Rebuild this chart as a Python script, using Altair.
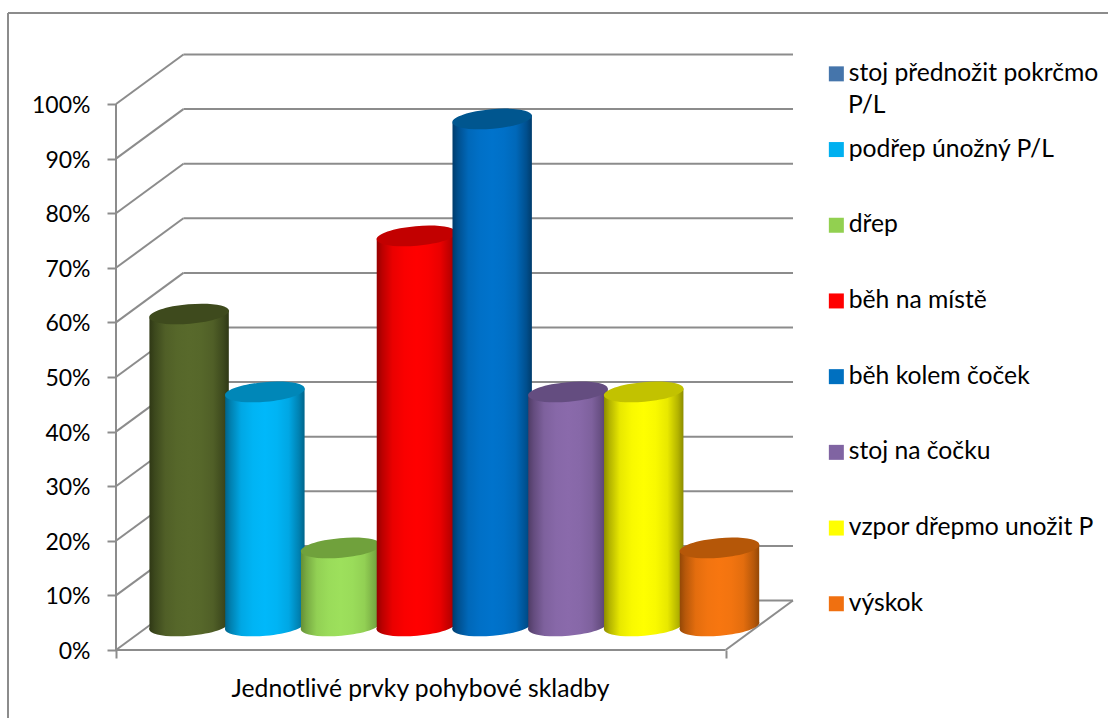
import altair as alt
import pandas as pd

# Share of performers (%) for each element of the routine (out of 14 performers)
series = ["stoj přednožit pokrčmo", "podřep únožný P/L", "dřep", "běh na místě",
          "běh kolem čoček", "stoj na čočku", "vzpor dřepmo unožit P", "výskok"]
values = [57.14, 42.86, 14.29, 71.43, 92.86, 42.86, 42.86, 14.29]

# Cylinder shading: bright centre, dark rim, lid colour, legend swatch
centre = ["#58692b", "#00b8fa", "#9de05c", "#ff0000", "#0073cc", "#8a6aab", "#ffff00", "#f77610"]
rim = ["#2f3815", "#00648a", "#648f36", "#960000", "#003c6c", "#503c66", "#8c8c00", "#944806"]
lid = ["#3e4a1d", "#0087b8", "#70a13c", "#c20000", "#00568f", "#644d80", "#c2c200", "#b55708"]
swatch = ["#4575ab", "#00b0f0", "#92d050", "#ff0000", "#0070c0", "#8064a2", "#ffff00", "#f07010"]

axis_ticks = list(range(0, 101, 10))
x_title = "Jednotlivé prvky pohybové skladby"
wrapped_tail = "P/L"

FONT = "Lato"
FS = 24.7
FS_AXIS = 23
GRID = "#8c8c8c"

# Scale units: one x unit is one category slot, y is in percent.
DEPTH_X, DEPTH_Y = 0.89, 9.07
FRONT_W = 8.045
BAR_X0, BAR_HALF = 0.965, 0.524
BASE = 4.4
TIP = 0.64
ELLIPSE = ("M-0.9962,0.0872 A1,0.245,-5,0,1,0.9962,-0.0872 "
           "A1,0.245,-5,0,1,-0.9962,0.0872 Z")

x_scale = alt.Scale(domain=[0, FRONT_W + DEPTH_X], nice=False, zero=False)
y_scale = alt.Scale(domain=[0, 109.16], nice=False, zero=False)
X = alt.X("x:Q", scale=x_scale, axis=alt.Axis(
    values=[0, FRONT_W], labels=False, domain=False, grid=False, tickSize=8,
    tickColor=GRID, tickWidth=2, title=x_title, titleFont=FONT, titleFontSize=FS,
    titleFontWeight="normal", titleColor="black", titleX=304, titleY=26,
    titleAlign="center"))
Y = alt.Y("y:Q", scale=y_scale, axis=alt.Axis(
    values=axis_ticks, labelExpr="datum.value + '%'", domain=False, grid=False,
    tickSize=9, tickColor=GRID, tickWidth=2, labelFont=FONT, labelFontSize=FS_AXIS,
    labelColor="black", labelPadding=17, labelOffset=1.5, title=None))

segments = []
for t in axis_ticks:
    segments.append(dict(x=0, x2=DEPTH_X, y=t, y2=t + DEPTH_Y))
    segments.append(dict(x=DEPTH_X, x2=FRONT_W + DEPTH_X, y=t + DEPTH_Y, y2=t + DEPTH_Y))
segments.append(dict(x=0, x2=0, y=0, y2=100))
segments.append(dict(x=0, x2=FRONT_W, y=0, y2=0))
segments.append(dict(x=FRONT_W, x2=FRONT_W + DEPTH_X, y=0, y2=DEPTH_Y))

walls = alt.Chart(pd.DataFrame(segments)).mark_rule(color=GRID, strokeWidth=2).encode(
    x=X, x2="x2:Q", y=Y, y2="y2:Q")

# Invisible anchors that carry the colour legend
anchors = pd.DataFrame({"x": [BAR_X0 + i for i in range(8)],
                        "y": [v + BASE for v in values], "series": series})
legend_layer = alt.Chart(anchors).mark_square(opacity=0, size=1).encode(
    x=X, y=Y,
    color=alt.Color("series:N", scale=alt.Scale(domain=series, range=swatch), legend=alt.Legend(
        orient="none", legendX=708, legendY=7.5, title=None, symbolType="square",
        symbolSize=225, symbolOpacity=1, symbolStrokeWidth=0, labelFont=FONT,
        labelFontSize=FS, labelColor="black", labelLimit=300, labelOffset=0,
        rowPadding=49.7, symbolOffset=0)))


def blend(a, b, t):
    pa = [int(a[i:i + 2], 16) for i in (1, 3, 5)]
    pb = [int(b[i:i + 2], 16) for i in (1, 3, 5)]
    return "#%02x%02x%02x" % tuple(round(p + (q - p) * t) for p, q in zip(pa, pb))


def cylinder_gradient(i):
    stops = [(0, 0.0), (0.07, 0.35), (0.2, 0.8), (0.35, 0.95), (0.5, 1.0),
             (0.65, 0.95), (0.8, 0.8), (0.93, 0.35), (1, 0.0)]
    return alt.Gradient(gradient="linear", x1=0, x2=1, y1=0, y2=0, stops=[
        alt.GradientStop(offset=o, color=blend(rim[i], centre[i], t)) for o, t in stops])


layers = [walls, legend_layer]
for i, v in enumerate(values):
    cx = BAR_X0 + i
    grad = cylinder_gradient(i)
    base_pt = pd.DataFrame({"x": [cx], "y": [BASE]})
    top_pt = pd.DataFrame({"x": [cx], "y": [v + BASE]})
    body = pd.DataFrame({"x": [cx - BAR_HALF, cx + BAR_HALF],
                         "y": [v + BASE - TIP, v + BASE + TIP],
                         "y2": [BASE - TIP, BASE + TIP]})
    layers.append(alt.Chart(base_pt).mark_point(
        shape=ELLIPSE, size=6400, filled=True, fill=grad, opacity=1, strokeWidth=0
    ).encode(x=X, y=Y))
    layers.append(alt.Chart(body).mark_area(color=grad, opacity=1).encode(
        x=X, y=Y, y2="y2:Q"))
    layers.append(alt.Chart(top_pt).mark_point(
        shape=ELLIPSE, size=6400, filled=True, fill=lid[i], opacity=1, strokeWidth=0
    ).encode(x=X, y=Y))

# Outer frame (left and top edges) and the wrapped second line of the first legend entry
frame_top = alt.Chart(pd.DataFrame({"a": [0]})).mark_rule(color=GRID, strokeWidth=2).encode(
    x=alt.value(-108), x2=alt.value(992), y=alt.value(-41))
frame_left = alt.Chart(pd.DataFrame({"a": [0]})).mark_rule(color=GRID, strokeWidth=2).encode(
    x=alt.value(-108), y=alt.value(-41), y2=alt.value(664))
tail = alt.Chart(pd.DataFrame({"a": [wrapped_tail]})).mark_text(
    font=FONT, fontSize=FS, color="black", align="left", baseline="middle"
).encode(x=alt.value(732), y=alt.value(52), text="a:N")
layers += [frame_top, frame_left, tail]

chart = alt.layer(*layers).properties(
    width=677, height=596, autosize=alt.AutoSizeParams(type="none"),
    padding={"left": 116, "top": 54, "right": 315, "bottom": 68},
    background="white"
).configure_view(stroke=None)

chart.save("out.html", embed_options={"renderer": "svg", "actions": False})
